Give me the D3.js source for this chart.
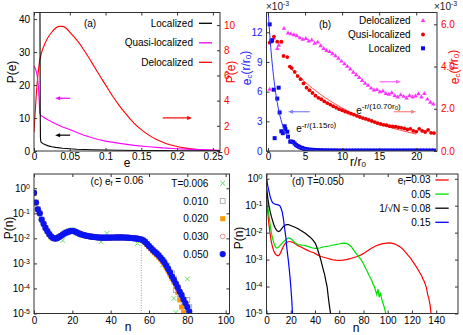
<!DOCTYPE html>
<html><head><meta charset="utf-8">
<script src="https://cdn.jsdelivr.net/npm/d3@7"></script>
<style>body{margin:0;background:#fff}svg{display:block}</style>
</head><body><svg id="chart" width="463" height="335"></svg>
<script>
// ---------------- DATA ----------------
// (a) P(e)
const aLocE = [0.0079,0.0083,0.0087,0.009,0.0095,0.01,0.012,0.015,0.02,0.025,0.03,0.04,0.05,0.06,0.08,0.1,0.12,0.15,0.18,0.2,0.23,0.26];
const aLocP = [60,45,12,4,3.0,2.7,2.3,1.95,1.55,1.3,1.1,0.85,0.66,0.54,0.4,0.3,0.23,0.15,0.1,0.075,0.05,0.03];
const aQuasiE = [0,0.002,0.004,0.005,0.006,0.007,0.0075,0.008,0.009,0.01,0.015,0.02,0.03,0.04,0.05,0.06,0.07,0.08,0.09,0.1,0.12,0.14,0.16,0.18,0.2,0.22,0.24,0.26];
const aQuasiP = [25.8,25.0,23.5,22,20,16.5,14,11.5,11.0,10.7,10.0,9.4,8.3,7.3,6.5,5.6,4.8,4.1,3.5,3.0,2.3,1.7,1.3,0.95,0.7,0.5,0.35,0.25];
const aDelocE = [0,0.002,0.004,0.006,0.008,0.01,0.015,0.02,0.025,0.03,0.035,0.04,0.045,0.05,0.06,0.07,0.08,0.09,0.1,0.11,0.12,0.13,0.14,0.15,0.16,0.17,0.18,0.19,0.2,0.21,0.22,0.23,0.24,0.25,0.26];
const aDelocP = [1.5,3.4,5.1,6.3,7.2,7.7,8.5,9.05,9.45,9.75,9.9,9.9,9.75,9.45,8.8,8.0,7.1,6.15,5.25,4.35,3.55,2.85,2.2,1.7,1.28,0.95,0.7,0.5,0.36,0.25,0.17,0.11,0.07,0.05,0.03];
const aXTicks = [0,0.05,0.1,0.15,0.2,0.25];
const aYTicks = [0,10,20,30,40];
const aY2Ticks = [0,2,4,6,8,10];

// (b) e_c(r/r0)  (both axes in units of 1e-3)
const bLocR = [0.23,0.45,0.55,0.77,0.9,1.25,1.44,1.57,1.8,2.0,2.25,2.35,2.6,2.7,3.0,3.2,3.4,3.6,3.8,4.0,4.2,4.4,4.6,4.8,5.0,5.3,5.6,6.0,6.4,6.8,7.2,7.6,8.0,8.4,8.8,9.2,9.6,10.0,10.4,10.8,11.2,11.6,12.0,12.4,12.8,13.2,13.6,14.0,14.4,14.8,15.2,15.6,16.0,16.4,16.8,17.2,17.6,18.0,18.4,18.8,19.2,19.6,20.0,20.4,20.8,21.2,21.6,22.0,22.4];
const bLocV = [12.8,11.1,11.2,6.2,1.3,5.3,6.4,3.9,2.0,1.8,2.5,2.2,1.95,1.45,0.95,0.95,0.9,0.75,0.6,0.5,0.42,0.35,0.3,0.25,0.2,0.17,0.14,0.12,0.1,0.09,0.08,0.07,0.07,0.06,0.06,0.06,0.05,0.05,0.05,0.05,0.05,0.05,0.05,0.05,0.05,0.05,0.05,0.05,0.05,0.05,0.05,0.05,0.05,0.05,0.05,0.05,0.05,0.05,0.05,0.05,0.05,0.05,0.05,0.05,0.05,0.05,0.05,0.05,0.05];
const bQuasiR = [0.23,0.8,1.25,1.8,2.1,2.6,2.95,3.2,3.6,4.0,4.4,4.8,5.2,5.6,6.0,6.4,6.8,7.2,7.6,8.0,8.4,8.8,9.2,9.6,10.0,10.4,10.8,11.2,11.6,12.0,12.4,12.8,13.2,13.6,14.0,14.4,14.8,15.2,15.6,16.0,16.4,16.8,17.2,17.6,18.0,18.4,18.8,19.2,19.6,20.0,20.4,20.8,21.2,21.6,22.0,22.4];
const bQuasiV = [5.13,5.42,5.18,5.18,4.5,4.45,4.0,3.93,3.75,3.55,3.4,3.2,3.0,2.88,2.75,2.62,2.52,2.45,2.35,2.27,2.2,2.12,2.05,1.98,1.93,1.87,1.82,1.77,1.72,1.66,1.61,1.56,1.52,1.47,1.42,1.37,1.32,1.28,1.24,1.22,1.18,1.16,1.15,1.12,1.1,1.07,1.02,1.05,0.95,0.92,1.05,0.95,0.9,1.0,0.86,0.85];
const bDelocR = [0.23,0.8,1.25,1.45,1.8,2.16,2.7,3.1,3.5,3.9,4.3,4.7,5.1,5.5,5.9,6.3,6.7,7.1,7.5,7.9,8.3,8.7,9.1,9.5,9.9,10.3,10.7,11.1,11.5,11.9,12.3,12.7,13.1,13.5,13.9,14.3,14.7,15.1,15.5,15.9,16.3,16.7,17.1,17.5,17.9,18.3,18.7,19.1,19.5,19.9,20.3,20.7,21.1,21.5,21.9,22.3];
const bDelocV = [2.92,5.34,4.85,5.0,5.15,5.8,5.58,5.55,5.5,5.45,5.35,5.28,5.32,5.2,5.25,5.1,5.15,4.98,4.85,4.75,4.7,4.6,4.5,4.38,4.25,4.12,4.0,3.87,3.72,3.6,3.47,3.33,3.2,3.1,2.97,2.88,2.9,2.8,2.83,2.72,2.68,2.75,2.62,2.55,2.65,2.58,2.5,2.62,2.55,2.6,2.7,2.55,2.72,2.45,2.3,2.22];
const bFitLocR = [0.04,0.25,0.5,0.75,1,1.25,1.5,1.75,2,2.5,3,3.5,4,4.5,5,6,7,8,10,14,18,22.5];
const bFitLocV = [14.0,11.67,9.39,7.56,6.08,4.89,3.94,3.17,2.55,1.65,1.07,0.69,0.45,0.29,0.19,0.079,0.033,0.014,0.0025,0,0,0];
const bFitQuasiR = [2.8,4,6,8,10,12,14,16,18,20];
const bFitQuasiV = [4.0,3.58,2.97,2.46,2.04,1.69,1.41,1.17,0.97,0.80];
const bXTicks = [0,5,10,15,20];
const bYTicks = [0,3,6,9,12];
const bY2Ticks = [0,2,4,6];

// (c) P(n), e_f = 0.06, index = n
const cT006 = [0.66,0.28,0.15,0.1,0.058,0.04,0.027,0.02,0.015,0.012,
  0.0105,0.0095,0.0098,0.0105,0.0115,0.0082,0.016,0.018,0.0195,0.021,
  0.023,0.019,0.016,0.015,0.0138,0.0132,0.013,0.0125,0.012,0.0118,
  0.0112,0.0115,0.0108,0.011,0.0098,0.0073,0.0105,0.0118,0.0158,0.0112,
  0.0105,0.0102,0.0108,0.0112,0.0101,0.0115,0.0103,0.011,0.0106,0.0099,
  0.0108,0.0102,0.0098,0.0094,0.0063,0.0089,0.0088,0.0078,0.0066,0.0058,
  0.0045,0.004,0.0031,0.0028,0.0022,0.0019,0.0015,0.00085,0.0011,0.00075,
  0.00085,0.0004,0.00025,0.00004,0.000011,null,null,null,null,null,0.00024];
const cT010 = [0.65,0.27,0.145,0.1,0.056,0.038,0.026,0.019,0.0145,0.0118,
  0.0103,0.0098,0.0102,0.0112,0.0126,0.0142,0.0158,0.0172,0.0185,0.0195,
  0.0198,0.0192,0.0178,0.0163,0.015,0.0142,0.0135,0.0129,0.0124,0.012,
  0.0117,0.0114,0.0112,0.011,0.0108,0.0107,0.0106,0.0106,0.0106,0.0107,
  0.0107,0.0108,0.0108,0.0109,0.0109,0.0109,0.0109,0.0108,0.0107,0.0106,
  0.0105,0.0103,0.0101,0.0099,0.0097,0.0094,0.009,0.0083,0.0072,0.006,
  0.0049,0.0041,0.0034,0.0029,0.0025,0.0021,0.0017,0.0014,0.0011,0.00082,
  0.00062,0.00045,0.0004,0.00025,0.000085,0.00011,0.00006,0.00004,0.000028,0.00002,
  0.000035,0.000018];
const cT020 = [0.64,0.26,0.14,0.098,0.055,0.037,0.026,0.019,0.0142,0.0116,
  0.0101,0.0096,0.0101,0.0111,0.0125,0.0141,0.0157,0.0171,0.0184,0.0194,
  0.0196,0.019,0.0176,0.0161,0.0149,0.0141,0.0134,0.0128,0.0123,0.0119,
  0.0116,0.0113,0.0111,0.0109,0.0107,0.0106,0.0105,0.0105,0.0105,0.0106,
  0.0106,0.0107,0.0107,0.0108,0.0108,0.0108,0.0108,0.0107,0.0106,0.0105,
  0.0104,0.0102,0.01,0.0098,0.0095,0.0092,0.0087,0.008,0.0069,0.0057,
  0.0046,0.0038,0.0031,0.0026,0.0022,0.0018,0.0015,0.0012,0.00092,0.00068,
  0.0005,0.00035,0.00025,0.00018,0.00012,0.00007,0.000035,0.000018,0.000011];
const cT030 = [0.65,0.27,0.145,0.1,0.056,0.038,0.026,0.019,0.0144,0.0117,
  0.0102,0.0097,0.0102,0.0112,0.0126,0.0142,0.0158,0.0172,0.0185,0.0195,
  0.0197,0.0191,0.0177,0.0162,0.015,0.0142,0.0135,0.0129,0.0124,0.012,
  0.0117,0.0114,0.0112,0.011,0.0108,0.0107,0.0106,0.0106,0.0106,0.0107,
  0.0107,0.0108,0.0108,0.0109,0.0109,0.0109,0.0109,0.0108,0.0107,0.0106,
  0.0105,0.0103,0.0101,0.0099,0.0097,0.0093,0.0089,0.0082,0.0071,0.0059,
  0.0048,0.004,0.0033,0.0028,0.0024,0.002,0.0016,0.0013,0.001,0.00078,
  0.00057,0.0004,0.00028,0.0002,0.00014,0.0001,0.00007,0.00005,0.000033,0.000022,
  0.000015];
const cT050 = [0.65,0.27,0.145,0.1,0.056,0.038,0.026,0.019,0.0145,0.0118,
  0.0103,0.0098,0.0102,0.0112,0.0126,0.0142,0.0158,0.0172,0.0185,0.0195,
  0.0198,0.0192,0.0178,0.0163,0.015,0.0142,0.0135,0.0129,0.0124,0.012,
  0.0117,0.0114,0.0112,0.011,0.0108,0.0107,0.0106,0.0106,0.0106,0.0107,
  0.0107,0.0108,0.0108,0.0109,0.0109,0.0109,0.0109,0.0108,0.0107,0.0106,
  0.0105,0.0103,0.0101,0.0099,0.0097,0.0094,0.009,0.0083,0.0072,0.006,
  0.0049,0.0041,0.0034,0.0029,0.0025,0.0021,0.0017,0.0014,0.0011,0.00082,
  0.0006,0.00043,0.0003,0.00022,0.00016,0.00011,0.000075,0.000055,0.000037,0.000026,
  0.000018,0.000012];
const cCutN = 56, cCutTop = 0.0086;
const cXTicks = [0,20,40,60,80,100];
const logTicks = [1e-5,1e-4,1e-3,1e-2,1e-1,1];

// (d) P(n), T = 0.050
const dN003 = [0,1,2,3,4,5,6,7,8,9,10,11,12,13,14,15,16,17,18,19,20,22,24,26,28,30,33,36,39,42,45,48,51,54,57,60,63,66,69,72,75,78,81,84,87,90,93,96,99,102,105,108,111,113,115,117,119,121,123,125,127,128,129,130,131,132,133,134,135,136];
const dP003 = [0.2,0.06,0.02,0.009,0.0045,0.0029,0.0021,0.0017,0.0015,0.0014,0.0014,0.0016,0.002,0.0025,0.0031,0.0037,0.0041,0.0044,0.0046,0.0046,0.0046,0.0043,0.0038,0.0033,0.003,0.0027,0.0023,0.002,0.0018,0.0015,0.0013,0.0012,0.0011,0.001,0.00096,0.00094,0.00095,0.001,0.00108,0.0012,0.0013,0.0015,0.0018,0.0022,0.0027,0.0032,0.0036,0.0039,0.0041,0.0042,0.0039,0.0034,0.0028,0.0023,0.0018,0.0014,0.0011,0.0008,0.0006,0.00043,0.0003,0.00025,0.00019,0.00016,0.00012,0.00009,0.00005,0.000035,0.00002,0.000008];
const dN005 = [0,1,2,3,4,5,6,7,8,9,10,11,12,13,14,15,16,17,18,19,20,21,22,23,24,26,28,30,32,34,36,38,40,42,44,46,48,50,52,54,56,58,60,62,64,66,68,70,72,74,76,78,80,82,83,84,85,86,87,88,89,90,91,92,93,94,95,96,97,98,99];
const dP005 = [0.25,0.1,0.045,0.02,0.01,0.0062,0.0042,0.0032,0.0027,0.0027,0.0029,0.0033,0.0037,0.0041,0.0046,0.005,0.0055,0.006,0.0064,0.0063,0.006,0.0056,0.005,0.0044,0.004,0.0036,0.0035,0.0034,0.0033,0.0031,0.0029,0.0027,0.0026,0.0026,0.0027,0.0029,0.003,0.0031,0.0032,0.0034,0.0035,0.0037,0.0038,0.004,0.0041,0.004,0.0036,0.003,0.0022,0.0017,0.0013,0.001,0.0007,0.00045,0.00038,0.0003,0.00024,0.0002,0.00016,0.00012,0.0001,0.00007,0.00005,0.00008,0.00004,0.00006,0.000035,0.000025,0.000018,0.000012,0.000007];
const dN008 = [0,1,2,3,4,5,6,7,8,9,10,11,12,13,14,15,16,17,18,19,20,22,24,26,28,30,32,34,36,38,40,41,42,43,44,45,46,47,48,49,50,51,52,53];
const dP008 = [0.5,0.2,0.1,0.06,0.04,0.028,0.02,0.0155,0.013,0.0115,0.011,0.0115,0.013,0.015,0.017,0.0185,0.0195,0.02,0.0198,0.0192,0.0185,0.017,0.0155,0.014,0.0122,0.0108,0.0095,0.008,0.0068,0.0055,0.0042,0.0034,0.0025,0.0018,0.0013,0.0009,0.0006,0.0004,0.00027,0.00016,0.0001,0.00004,0.000018,0.000009];
const dN015 = [0,1,2,3,4,5,6,7,8,9,10,11,12,13,14,15,16,17,18,19,20,21,21.5];
const dP015 = [1.2,0.55,0.35,0.22,0.16,0.13,0.12,0.115,0.112,0.11,0.105,0.1,0.08,0.058,0.032,0.014,0.0065,0.0022,0.00095,0.00035,0.00011,0.000025,0.000008];
const dXTicks = [0,20,40,60,80,100,120,140];

// ---------------- DRAWING ----------------
const FONT = '"Liberation Sans", Arial, Helvetica, sans-serif';
const svg = d3.select('#chart');
const FRAME = '#333';

const PA = {l:34, r:220, t:12.5, b:151};
const PB = {l:266.5, r:437, t:12.5, b:151};
const PC = {l:34, r:229.5, t:174, b:313.5};
const PD = {l:266.5, r:458, t:174, b:313.5};

const xa = d3.scaleLinear([0,0.26],[PA.l,PA.r]);
const ya = d3.scaleLinear([0,42],[PA.b,PA.t]);
const ya2 = d3.scaleLinear([0,11],[PA.b,PA.t]);
const xb = d3.scaleLinear([-0.2,22.8],[PB.l,PB.r]);
const yb = d3.scaleLinear([0,14],[PB.b,PB.t]);
const yb2 = d3.scaleLinear([0,6.56],[PB.b,PB.t]);
const xc = d3.scaleLinear([0,102],[PC.l,PC.r]);
const yc = d3.scaleLog([1e-5,3.7],[PC.b,PC.t]);
const xd = d3.scaleLinear([0,158],[PD.l,PD.r]);
const yd = d3.scaleLog([1e-5,1.5],[PD.b,PD.t]);

function clipG(id,P){
  svg.append('clipPath').attr('id',id).append('rect')
    .attr('x',P.l).attr('y',P.t).attr('width',P.r-P.l).attr('height',P.b-P.t);
  return svg.append('g').attr('clip-path',`url(#${id})`);
}
function frame(P){
  svg.append('rect').attr('x',P.l).attr('y',P.t).attr('width',P.r-P.l).attr('height',P.b-P.t)
    .attr('fill','none').attr('stroke',FRAME).attr('stroke-width',1);
}
function axis(gen,tx,ty,color){
  const g = svg.append('g').attr('transform',`translate(${tx},${ty})`).call(gen);
  g.attr('font-family',FONT).attr('font-size',10);
  g.select('.domain').remove();
  g.selectAll('.tick line').attr('stroke',FRAME);
  g.selectAll('.tick text').attr('fill',color||'#000');
  return g;
}
function logLabels(g){
  g.selectAll('.tick text').each(function(d){
    const t = d3.select(this); const e = Math.round(Math.log10(d));
    t.text(null);
    t.append('tspan').text('10');
    t.append('tspan').attr('dy','-0.45em').attr('font-size','7').text(e<0?'-'+(-e):String(e));
  });
}
function txt(x,y,s,opt){
  opt = opt||{};
  const t = svg.append('text').attr('x',x).attr('y',y).attr('font-family',FONT)
    .attr('font-size',opt.size||10).attr('fill',opt.color||'#000')
    .attr('text-anchor',opt.anchor||'start').attr('dominant-baseline','central');
  if (opt.rotate) t.attr('transform',`rotate(-90,${x},${y})`);
  if (typeof s === 'string') t.text(s); else s(t);
  return t;
}
function arrow(x1,y1,x2,y2,color){
  const g = svg.append('g');
  const ang = Math.atan2(y2-y1,x2-x1), L=5, W=2;
  g.append('line').attr('x1',x1).attr('y1',y1).attr('x2',x2-Math.cos(ang)*L*0.8).attr('y2',y2-Math.sin(ang)*L*0.8)
    .attr('stroke',color).attr('stroke-width',1.2);
  const bx = x2-Math.cos(ang)*L, by = y2-Math.sin(ang)*L;
  g.append('path').attr('d',`M${x2},${y2}L${bx-Math.sin(ang)*W},${by+Math.cos(ang)*W}L${bx+Math.sin(ang)*W},${by-Math.cos(ang)*W}Z`)
    .attr('fill',color);
}
const zipPts = (a,b)=>d3.zip(a,b).filter(p=>p[1]!==null);

// ======== Panel (a) ========
{
  const g = clipG('clipA',PA);
  const lineL = d3.line().x(d=>xa(d[0])).y(d=>ya(d[1]));
  const lineR = d3.line().x(d=>xa(d[0])).y(d=>ya2(d[1])).curve(d3.curveMonotoneX);
  g.append('path').attr('d',lineR(zipPts(aDelocE,aDelocP))).attr('fill','none').attr('stroke','#ff0000').attr('stroke-width',1.1);
  g.append('path').attr('d',lineL(zipPts(aQuasiE,aQuasiP))).attr('fill','none').attr('stroke','#ff00ff').attr('stroke-width',1.1);
  g.append('path').attr('d',lineL(zipPts(aLocE,aLocP))).attr('fill','none').attr('stroke','#000').attr('stroke-width',1.1);
  frame(PA);
  axis(d3.axisBottom(xa).tickValues(aXTicks).tickFormat(d=>d===0?'0':String(d)).tickSizeInner(-3).tickSizeOuter(0).tickPadding(2),0,PA.b);
  axis(d3.axisTop(xa).tickValues(aXTicks).tickFormat('').tickSizeInner(-3).tickSizeOuter(0),0,PA.t);
  axis(d3.axisLeft(ya).tickValues(aYTicks).tickSizeInner(-3).tickSizeOuter(0).tickPadding(4),PA.l,0);
  axis(d3.axisRight(ya2).tickValues(aY2Ticks).tickSizeInner(-3).tickSizeOuter(0).tickPadding(4),PA.r,0,'#ff0000');
  txt(12,72,'P(e)',{size:12,anchor:'middle',rotate:true});
  txt(231,72,'P(e)',{size:12,anchor:'middle',rotate:true,color:'#ff0000'});
  txt(127,163,'e',{size:12,anchor:'middle'});
  txt(90,23,'(a)',{size:10,anchor:'middle'});
  const leg = [['Localized','#000'],['Quasi-localized','#ff00ff'],['Delocalized','#ff0000']];
  leg.forEach((l,i)=>{
    const y = 23.3 + i*19.5;
    txt(193,y,l[0],{size:10,anchor:'end'});
    svg.append('line').attr('x1',199).attr('x2',212).attr('y1',y).attr('y2',y).attr('stroke',l[1]).attr('stroke-width',1.3);
  });
  arrow(xa(0.0505),ya(16),xa(0.0295),ya(16),'#ff00ff');
  arrow(xa(0.0505),ya(4.8),xa(0.0295),ya(4.8),'#000');
  arrow(xa(0.180),ya2(2.63),xa(0.221),ya2(2.63),'#ff0000');
}

// ======== Panel (b) ========
{
  const g = clipG('clipB',PB);
  const fitL = d3.line().x(d=>xb(d[0])).y(d=>yb(d[1])).curve(d3.curveMonotoneX);
  const fitR = d3.line().x(d=>xb(d[0])).y(d=>yb2(d[1])).curve(d3.curveMonotoneX);
  g.append('path').attr('d',fitR(zipPts(bFitQuasiR,bFitQuasiV))).attr('fill','none').attr('stroke','#ff5050').attr('stroke-width',1);
  const tri = d3.symbol().type(d3.symbolTriangle).size(9);
  g.selectAll('.tri').data(zipPts(bDelocR,bDelocV)).join('path')
    .attr('d',tri).attr('transform',d=>`translate(${xb(d[0])},${yb2(d[1])})`).attr('fill','#ff33ff');
  g.selectAll('.cq').data(zipPts(bQuasiR,bQuasiV)).join('circle')
    .attr('cx',d=>xb(d[0])).attr('cy',d=>yb2(d[1])).attr('r',1.9).attr('fill','#ee0000');
  g.selectAll('.sq').data(zipPts(bLocR,bLocV)).join('rect')
    .attr('x',d=>xb(d[0])-2).attr('y',d=>yb(d[1])-2).attr('width',4).attr('height',4).attr('fill','#0a0ae8');
  g.append('path').attr('d',fitL(zipPts(bFitLocR,bFitLocV))).attr('fill','none').attr('stroke','#3030ff').attr('stroke-width',1);
  frame(PB);
  axis(d3.axisBottom(xb).tickValues(bXTicks).tickSizeInner(-3).tickSizeOuter(0).tickPadding(2),0,PB.b);
  axis(d3.axisTop(xb).tickValues(bXTicks).tickFormat('').tickSizeInner(-3).tickSizeOuter(0),0,PB.t);
  axis(d3.axisLeft(yb).tickValues(bYTicks).tickSizeInner(-3).tickSizeOuter(0).tickPadding(4),PB.l,0,'#2020ff');
  axis(d3.axisRight(yb2).tickValues(bY2Ticks).tickSizeInner(-3).tickSizeOuter(0).tickPadding(4),PB.r,0,'#ff0000');
  const x10 = (x,col)=>txt(x,6,t=>{t.append('tspan').text('\u00d710');t.append('tspan').attr('dy','-0.45em').attr('font-size',7).text('-3');},{size:10,color:col});
  x10(266,'#222'); x10(434,'#222');
  const ecLabel = t=>{
    t.append('tspan').text('e');
    t.append('tspan').attr('dy','0.3em').attr('font-size',8).text('c');
    t.append('tspan').attr('dy','-0.3em').text('(r/r');
    t.append('tspan').attr('dy','0.3em').attr('font-size',8).text('0');
    t.append('tspan').attr('dy','-0.3em').text(')');
  };
  txt(247,68,ecLabel,{size:12,anchor:'middle',rotate:true,color:'#2020ff'});
  txt(455,67,ecLabel,{size:12,anchor:'middle',rotate:true,color:'#ff0000'});
  txt(358,162,t=>{t.append('tspan').text('r/r');t.append('tspan').attr('dy','0.3em').attr('font-size',8).text('0');},{size:12,anchor:'middle'});
  txt(325,24,'(b)',{size:10,anchor:'middle'});
  const expLabel = (num)=>t=>{
    t.append('tspan').text('e');
    t.append('tspan').attr('dy','-0.45em').attr('font-size',8).text('-r/('+num+'r');
    t.append('tspan').attr('dy','0.25em').attr('font-size',6).text('0');
    t.append('tspan').attr('dy','-0.25em').attr('font-size',8).text(')');
  };
  txt(xb(11.9),yb2(1.95),expLabel('10.70'),{size:10});
  txt(xb(3.8),yb(2.3),expLabel('1.15'),{size:10});
  arrow(xb(15.07),yb2(3.28),xb(17.94),yb2(3.28),'#ff66ff');
  arrow(xb(16.96),yb2(1.86),xb(19.97),yb2(1.86),'#ff8080');
  arrow(xb(5.63),yb(3.97),xb(2.7),yb(3.97),'#8080ff');
  const leg = [['Delocalized','tri'],['Qusi-localized','circ'],['Localized','sq']];
  leg.forEach((l,i)=>{
    const y = 20.7 + i*13.8;
    txt(410.7,y,l[0],{size:10,anchor:'end'});
    if (l[1]==='tri') svg.append('path').attr('d',tri).attr('transform',`translate(423,${y})`).attr('fill','#ff33ff');
    if (l[1]==='circ') svg.append('circle').attr('cx',423).attr('cy',y).attr('r',1.9).attr('fill','#ee0000');
    if (l[1]==='sq') svg.append('rect').attr('x',421).attr('y',y-2).attr('width',4).attr('height',4).attr('fill','#0a0ae8');
  });
}

// ======== Panel (c) ========
const cStyles = [
  {name:'T=0.006', data:cT006, kind:'x', color:'#66dd66'},
  {name:'0.010', data:cT010, kind:'osq', color:'#aaaaaa'},
  {name:'0.020', data:cT020, kind:'fsq', color:'#ff9900'},
  {name:'0.030', data:cT030, kind:'oci', color:'#e08888'},
  {name:'0.050', data:cT050, kind:'fci', color:'#0a14f0'}
];
function marker(sel,kind,color){
  if (kind==='x') sel.append('path').attr('d','M-2.3,-2.3L2.3,2.3M-2.3,2.3L2.3,-2.3').attr('stroke',color).attr('stroke-width',1).attr('fill','none');
  if (kind==='osq') sel.append('rect').attr('x',-2.4).attr('y',-2.4).attr('width',4.8).attr('height',4.8).attr('fill','none').attr('stroke',color).attr('stroke-width',0.9);
  if (kind==='fsq') sel.append('rect').attr('x',-2.5).attr('y',-2.5).attr('width',5).attr('height',5).attr('fill',color);
  if (kind==='oci') sel.append('circle').attr('r',2.4).attr('fill','none').attr('stroke',color).attr('stroke-width',0.9);
  if (kind==='fci') sel.append('circle').attr('r',3.1).attr('fill',color);
}
{
  const g = clipG('clipC',PC);
  g.append('line').attr('x1',xc(cCutN)).attr('x2',xc(cCutN)).attr('y1',yc(cCutTop)).attr('y2',PC.b)
    .attr('stroke','#888').attr('stroke-width',0.8).attr('stroke-dasharray','1,1.5');
  cStyles.forEach(s=>{
    const pts = s.data.map((v,i)=>[i,v]).filter(p=>p[1]!==null);
    g.selectAll(null).data(pts).join('g')
      .attr('transform',d=>`translate(${xc(d[0])},${yc(d[1])})`)
      .each(function(){ marker(d3.select(this),s.kind,s.color); });
  });
  frame(PC);
  axis(d3.axisBottom(xc).tickValues(cXTicks).tickSizeInner(-3).tickSizeOuter(0).tickPadding(3),0,PC.b);
  axis(d3.axisTop(xc).tickValues(cXTicks).tickFormat('').tickSizeInner(-3).tickSizeOuter(0),0,PC.t);
  logLabels(axis(d3.axisLeft(yc).tickValues(logTicks).tickSizeInner(-3).tickSizeOuter(0).tickPadding(4),PC.l,0));
  axis(d3.axisRight(yc).tickValues(logTicks).tickFormat('').tickSizeInner(-3).tickSizeOuter(0),PC.r,0);
  txt(9,228,'P(n)',{size:12,anchor:'middle',rotate:true});
  txt(128,327,'n',{size:12,anchor:'middle'});
  txt(117,181,t=>{t.append('tspan').text('(c) e');t.append('tspan').attr('dy','0.3em').attr('font-size',7).text('f');t.append('tspan').attr('dy','-0.3em').text(' = 0.06');},{size:10,anchor:'middle'});
  cStyles.forEach((s,i)=>{
    const y = 183.3 + i*17.7;
    txt(208.3,y,s.name,{size:10,anchor:'end'});
    marker(svg.append('g').attr('transform',`translate(222.7,${y})`),s.kind,s.color);
  });
}

// ======== Panel (d) ========
{
  const g = clipG('clipD',PD);
  const ln = d3.line().x(d=>xd(d[0])).y(d=>yd(d[1]));
  const series = [
    [dN003,dP003,'#ff0000'],[dN005,dP005,'#00e000'],[dN008,dP008,'#000000'],[dN015,dP015,'#0000ff']
  ];
  series.forEach(s=>{
    g.append('path').attr('d',ln(zipPts(s[0],s[1]))).attr('fill','none').attr('stroke',s[2]).attr('stroke-width',1.2);
  });
  frame(PD);
  axis(d3.axisBottom(xd).tickValues(dXTicks).tickSizeInner(-3).tickSizeOuter(0).tickPadding(3),0,PD.b);
  axis(d3.axisTop(xd).tickValues(dXTicks).tickFormat('').tickSizeInner(-3).tickSizeOuter(0),0,PD.t);
  logLabels(axis(d3.axisLeft(yd).tickValues(logTicks).tickSizeInner(-3).tickSizeOuter(0).tickPadding(4),PD.l,0));
  axis(d3.axisRight(yd).tickValues(logTicks).tickFormat('').tickSizeInner(-3).tickSizeOuter(0),PD.r,0);
  txt(239,238,'P(n)',{size:12,anchor:'middle',rotate:true});
  txt(356,328,'n',{size:12,anchor:'middle'});
  txt(318,181.7,'(d) T=0.050',{size:10,anchor:'middle'});
  const leg = [
    [t=>{t.append('tspan').text('e');t.append('tspan').attr('dy','0.3em').attr('font-size',7).text('f');t.append('tspan').attr('dy','-0.3em').text('=0.03');},'#ff0000'],
    ['0.05','#00e000'],
    ['1/\u221aN \u2248 0.08','#000000'],
    ['0.15','#0000ff']
  ];
  leg.forEach((l,i)=>{
    const y = 180 + i*14.1;
    txt(430.7,y,l[0],{size:10,anchor:'end'});
    svg.append('line').attr('x1',435.3).attr('x2',448.7).attr('y1',y).attr('y2',y).attr('stroke',l[1]).attr('stroke-width',1.3);
  });
}
</script></body></html>
